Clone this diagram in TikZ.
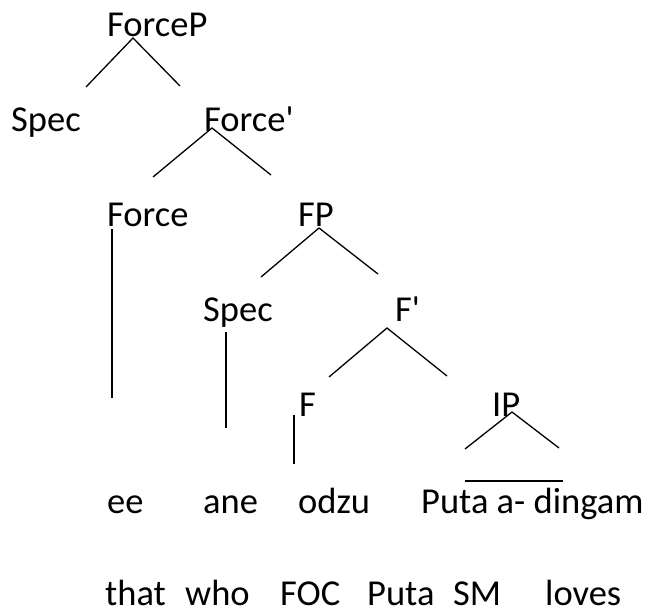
\documentclass[tikz,border=0pt]{standalone}
\usepackage{fontspec}
\newfontfamily\calfont{Carlito}
\begin{document}
\begin{tikzpicture}[x=1pt,y=-1pt,
  lbl/.style={inner sep=0pt,anchor=base west,font=\calfont\fontsize{36.5}{44}\selectfont},
  br/.style={line width=1.3pt,black}]
\useasboundingbox (0,0) rectangle (667,612);
% labels
\node[lbl] (forcep) at (107,37) {ForceP};
\node[lbl] (spec1) at (11,132) {Spec};
\node[lbl] (forcebar) at (204,132) {Force'};
\node[lbl] (force) at (107,227) {Force};
\node[lbl] (fp) at (298,227) {FP};
\node[lbl] (spec2) at (203,322) {Spec};
\node[lbl] (fbar) at (395,322) {F'};
\node[lbl] (f) at (299,417) {F};
\node[lbl] (ip) at (492,417) {IP};
\node[lbl] (ee) at (107,513) {ee};
\node[lbl] (ane) at (203,513) {ane};
\node[lbl] (odzu) at (298,513) {odzu};
\node[lbl] (puta) at (421,513) {Puta a- dingam};
\node[lbl] (that) at (105,605) {that};
\node[lbl] (who) at (185,605) {who};
\node[lbl] (foc) at (280,605) {FOC};
\node[lbl] (puta2) at (367,605) {Puta};
\node[lbl] (sm) at (453,605) {SM};
\node[lbl] (loves) at (545,605) {loves};
% branch points
\coordinate (a1) at (133,38);  \coordinate (a1l) at (86,87);   \coordinate (a1r) at (180,86);
\coordinate (a2) at (212,128); \coordinate (a2l) at (153,177); \coordinate (a2r) at (271,175);
\coordinate (v1t) at (112,229); \coordinate (v1b) at (112,398);
\coordinate (a3) at (319,228); \coordinate (a3l) at (261,277); \coordinate (a3r) at (378,274);
\coordinate (v2t) at (226,332); \coordinate (v2b) at (226,428);
\coordinate (a4) at (387,328); \coordinate (a4l) at (329,377); \coordinate (a4r) at (447,376);
\coordinate (v3t) at (294,415); \coordinate (v3b) at (294,464);
\coordinate (a5) at (512,412); \coordinate (a5l) at (465,449); \coordinate (a5r) at (559,448);
\coordinate (hl) at (465,481); \coordinate (hr) at (563,481);
% branches
\draw[br] (a1l) -- (a1) -- (a1r);
\draw[br] (a2l) -- (a2) -- (a2r);
\draw[br] (v1t) -- (v1b);
\draw[br] (a3l) -- (a3) -- (a3r);
\draw[br] (v2t) -- (v2b);
\draw[br] (a4l) -- (a4) -- (a4r);
\draw[br] (v3t) -- (v3b);
\draw[br] (a5l) -- (a5) -- (a5r);
\draw[br] (hl) -- (hr);
\end{tikzpicture}
\end{document}
